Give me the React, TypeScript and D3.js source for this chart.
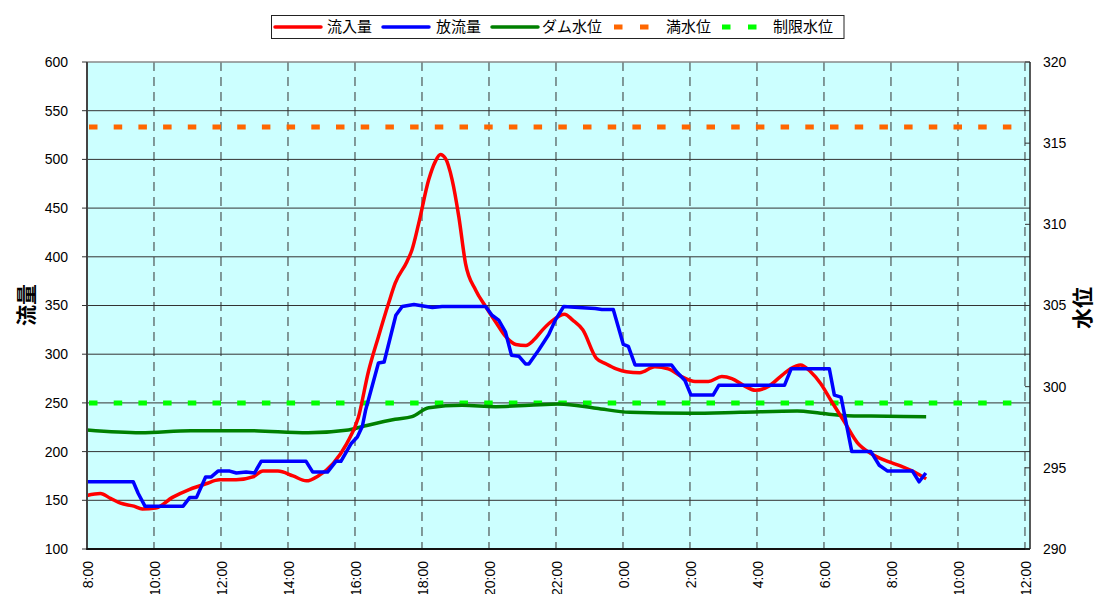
import React, { useEffect, useRef } from "react";
import * as d3 from "d3";

// hours counted from 8:00 of the first day
const inflowHours = [0, 0.4, 0.7, 1.0, 1.4, 1.65, 2.05, 2.55, 3.05, 3.55, 3.95, 4.45, 4.95, 5.25, 5.7, 6.15, 6.55, 6.9, 7.35, 7.75, 8.1, 8.4, 8.7, 9.0, 9.2, 9.55, 9.7, 9.9, 10.2, 10.4, 10.55, 10.7, 10.9, 11.1, 11.3, 11.6, 11.9, 12.2, 12.5, 12.8, 13.1, 13.35, 13.6, 13.95, 14.25, 14.5, 14.8, 15.2, 15.5, 15.8, 16.1, 16.5, 16.95, 17.35, 17.75, 18.15, 18.55, 18.95, 19.25, 19.65, 19.95, 20.35, 20.7, 21.0, 21.3, 21.6, 21.9, 22.2, 22.6, 23.0, 23.4, 23.9, 24.3, 24.7, 25.05];
const inflow = [155, 157, 152, 147, 144, 141, 142, 153, 161, 167, 171, 171, 174, 180, 180, 175, 170, 175, 188, 208, 235, 282, 318, 352, 373, 395, 407, 434, 479, 498, 505, 501, 479, 441, 393, 366, 349, 333, 318, 310, 309, 315, 325, 336, 341, 335, 325, 296, 290, 285, 282, 281, 287, 285, 277, 272, 272, 277, 275, 267, 263, 267, 277, 285, 289, 282, 270, 253, 231, 209, 198, 190, 185, 179, 172];

const outflowHours = [0, 1.38, 1.53, 1.73, 2.87, 3.07, 3.27, 3.54, 3.71, 3.91, 4.26, 4.46, 4.75, 5.0, 5.2, 6.54, 6.74, 7.18, 7.43, 7.58, 7.88, 8.07, 8.22, 8.32, 8.7, 8.87, 9.22, 9.41, 9.76, 10.31, 10.6, 11.9, 12.09, 12.29, 12.49, 12.67, 12.89, 13.09, 13.19, 13.48, 13.78, 13.98, 14.23, 14.67, 15.17, 15.37, 15.71, 16.01, 16.16, 16.36, 17.45, 17.6, 17.85, 18.03, 18.69, 18.86, 20.82, 21.02, 22.16, 22.31, 22.51, 22.83, 23.4, 23.65, 23.9, 24.64, 24.84, 25.04];
const outflow = [169, 169, 157, 144, 144, 153, 153, 174, 174, 180, 180, 178, 179, 178, 190, 190, 179, 179, 190, 190, 208, 215, 226, 243, 291, 292, 340, 349, 351, 348, 349, 349, 340, 335, 323, 299, 298, 290, 290, 304, 320, 335, 349, 348, 347, 346, 346, 310, 308, 289, 289, 282, 273, 258, 258, 268, 268, 285, 285, 258, 256, 200, 200, 186, 180, 180, 169, 178];

const levelHours = [0, 1.6, 3.1, 4.8, 6.6, 7.8, 8.2, 9.2, 9.7, 10.2, 11.2, 12.2, 13.2, 14.1, 15.2, 16.2, 18.0, 19.5, 21.2, 21.9, 22.7, 23.4, 25.05];
const damLevel = [297.33, 297.16, 297.29, 297.29, 297.16, 297.33, 297.53, 297.99, 298.15, 298.7, 298.85, 298.77, 298.85, 298.93, 298.67, 298.42, 298.36, 298.42, 298.5, 298.36, 298.21, 298.19, 298.15];

const fullLevel = 316;
const limitLevel = 299;

const flowTicks = [100, 150, 200, 250, 300, 350, 400, 450, 500, 550, 600];
const levelTicks = [290, 295, 300, 305, 310, 315, 320];
const timeLabels = ["8:00", "10:00", "12:00", "14:00", "16:00", "18:00", "20:00", "22:00", "0:00", "2:00", "4:00", "6:00", "8:00", "10:00", "12:00"];

const legendItems = [
  { name: "流入量", color: "#ff0000", dash: false },
  { name: "放流量", color: "#0000ff", dash: false },
  { name: "ダム水位", color: "#008000", dash: false },
  { name: "満水位", color: "#ff6600", dash: true },
  { name: "制限水位", color: "#00ff00", dash: true },
];

const FONT = "'Liberation Sans', Arial, 'Noto Sans CJK JP', sans-serif";
const JFONT = "'Noto Sans CJK JP', 'Liberation Sans', sans-serif";

export default function App() {
  const ref = useRef<SVGSVGElement>(null);

  useEffect(() => {
    const svg = d3.select(ref.current);
    svg.selectAll("*").remove();

    const left = 87, right = 1030, top = 62, bottom = 549;

    const x = d3.scaleLinear().domain([0, 28.15]).range([left, right]);
    const yFlow = d3.scaleLinear().domain([100, 600]).range([bottom, top]);
    const yLevel = d3.scaleLinear().domain([290, 320]).range([bottom, top]);

    // background
    svg.append("rect").attr("x", left).attr("y", top)
      .attr("width", right - left).attr("height", bottom - top)
      .attr("fill", "#ccffff");

    // horizontal grid
    svg.append("g").selectAll("line").data(flowTicks.slice(1, -1)).join("line")
      .attr("x1", left).attr("x2", right)
      .attr("y1", d => yFlow(d)).attr("y2", d => yFlow(d))
      .attr("stroke", "#333").attr("stroke-width", 1);

    // vertical dashed grid
    const gridHours = d3.range(2, 29, 2);
    svg.append("g").selectAll("line").data(gridHours).join("line")
      .attr("x1", d => x(d)).attr("x2", d => x(d))
      .attr("y1", top).attr("y2", bottom)
      .attr("stroke", "#333").attr("stroke-width", 1)
      .attr("stroke-dasharray", "9,6");

    // reference levels
    const refs = [
      { v: fullLevel, color: "#ff6600" },
      { v: limitLevel, color: "#00ff00" },
    ];
    svg.append("g").selectAll("line").data(refs).join("line")
      .attr("x1", left + 2).attr("x2", right - 6)
      .attr("y1", d => yLevel(d.v)).attr("y2", d => yLevel(d.v))
      .attr("stroke", d => d.color).attr("stroke-width", 5)
      .attr("stroke-dasharray", "8.5,16.2");

    // series
    const flowLine = d3.line<[number, number]>()
      .x(d => x(d[0])).y(d => yFlow(d[1]));
    const levelLine = d3.line<[number, number]>()
      .x(d => x(d[0])).y(d => yLevel(d[1])).curve(d3.curveMonotoneX);

    svg.append("path")
      .datum(levelHours.map((h, i) => [h, damLevel[i]] as [number, number]))
      .attr("d", levelLine).attr("fill", "none")
      .attr("stroke", "#008000").attr("stroke-width", 3.5);

    svg.append("path")
      .datum(inflowHours.map((h, i) => [h, inflow[i]] as [number, number]))
      .attr("d", flowLine.curve(d3.curveMonotoneX)).attr("fill", "none")
      .attr("stroke", "#ff0000").attr("stroke-width", 3.5)
      .attr("stroke-linejoin", "round");

    svg.append("path")
      .datum(outflowHours.map((h, i) => [h, outflow[i]] as [number, number]))
      .attr("d", flowLine.curve(d3.curveLinear)).attr("fill", "none")
      .attr("stroke", "#0000ff").attr("stroke-width", 3.5)
      .attr("stroke-linejoin", "round");

    // frame
    svg.append("line").attr("x1", left).attr("x2", right).attr("y1", top).attr("y2", top)
      .attr("stroke", "#888").attr("stroke-width", 1.5);
    svg.append("line").attr("x1", right).attr("x2", right).attr("y1", top).attr("y2", bottom)
      .attr("stroke", "#222").attr("stroke-width", 1.5);
    svg.append("line").attr("x1", left).attr("x2", left).attr("y1", top).attr("y2", bottom)
      .attr("stroke", "#444").attr("stroke-width", 2);
    svg.append("line").attr("x1", left - 1).attr("x2", right).attr("y1", bottom).attr("y2", bottom)
      .attr("stroke", "#111").attr("stroke-width", 2);

    // left axis
    svg.append("g").selectAll("line").data(flowTicks).join("line")
      .attr("x1", left - 5).attr("x2", left)
      .attr("y1", d => yFlow(d)).attr("y2", d => yFlow(d))
      .attr("stroke", "#333");
    svg.append("g").selectAll("text").data(flowTicks).join("text")
      .attr("x", 68).attr("y", d => yFlow(d))
      .attr("dy", "0.35em").attr("text-anchor", "end")
      .attr("font-family", FONT).attr("font-size", 14).attr("fill", "#000")
      .text(d => d);

    // right axis
    svg.append("g").selectAll("line").data(levelTicks).join("line")
      .attr("x1", right - 5).attr("x2", right)
      .attr("y1", d => yLevel(d)).attr("y2", d => yLevel(d))
      .attr("stroke", "#333");
    svg.append("g").selectAll("text").data(levelTicks).join("text")
      .attr("x", 1043).attr("y", d => yLevel(d))
      .attr("dy", "0.35em").attr("text-anchor", "start")
      .attr("font-family", FONT).attr("font-size", 14).attr("fill", "#000")
      .text(d => d);

    // bottom labels
    svg.append("g").selectAll("text").data(timeLabels).join("text")
      .attr("transform", (d, i) => `translate(${x(i * 2) + 1},561) rotate(-90)`)
      .attr("dy", "0.35em").attr("text-anchor", "end")
      .attr("font-family", FONT).attr("font-size", 14).attr("fill", "#000")
      .text(d => d);

    // axis titles
    svg.append("text")
      .attr("transform", "translate(27,305) rotate(-90)")
      .attr("dy", "0.35em").attr("text-anchor", "middle")
      .attr("font-family", JFONT).attr("font-weight", "bold").attr("font-size", 21)
      .text("流量");
    svg.append("text")
      .attr("transform", "translate(1083,308) rotate(-90)")
      .attr("dy", "0.35em").attr("text-anchor", "middle")
      .attr("font-family", JFONT).attr("font-weight", "bold").attr("font-size", 21)
      .text("水位");

    // legend
    const lg = svg.append("g");
    lg.append("rect").attr("x", 271.5).attr("y", 15.5).attr("width", 572.5).attr("height", 23)
      .attr("fill", "#fff").attr("stroke", "#222").attr("stroke-width", 1);
    const starts = [275, 383, 492, 614, 722];
    const textX = [327, 436, 542, 666, 773];
    legendItems.forEach((it, i) => {
      lg.append("line")
        .attr("x1", starts[i]).attr("x2", starts[i] + (it.dash ? 43 : 46))
        .attr("y1", 27).attr("y2", 27)
        .attr("stroke", it.color)
        .attr("stroke-width", it.dash ? 5 : 3.5)
        .attr("stroke-linecap", it.dash ? "butt" : "round")
        .attr("stroke-dasharray", it.dash ? "8.5,17.5" : null);
      lg.append("text").attr("x", textX[i]).attr("y", 27).attr("dy", "0.36em")
        .attr("font-family", JFONT).attr("font-size", 15).attr("fill", "#000")
        .text(it.name);
    });
  }, []);

  return (
    <svg ref={ref} width={1103} height={594}
      style={{ position: "absolute", left: 0, top: 0, background: "#fff" }} />
  );
}
